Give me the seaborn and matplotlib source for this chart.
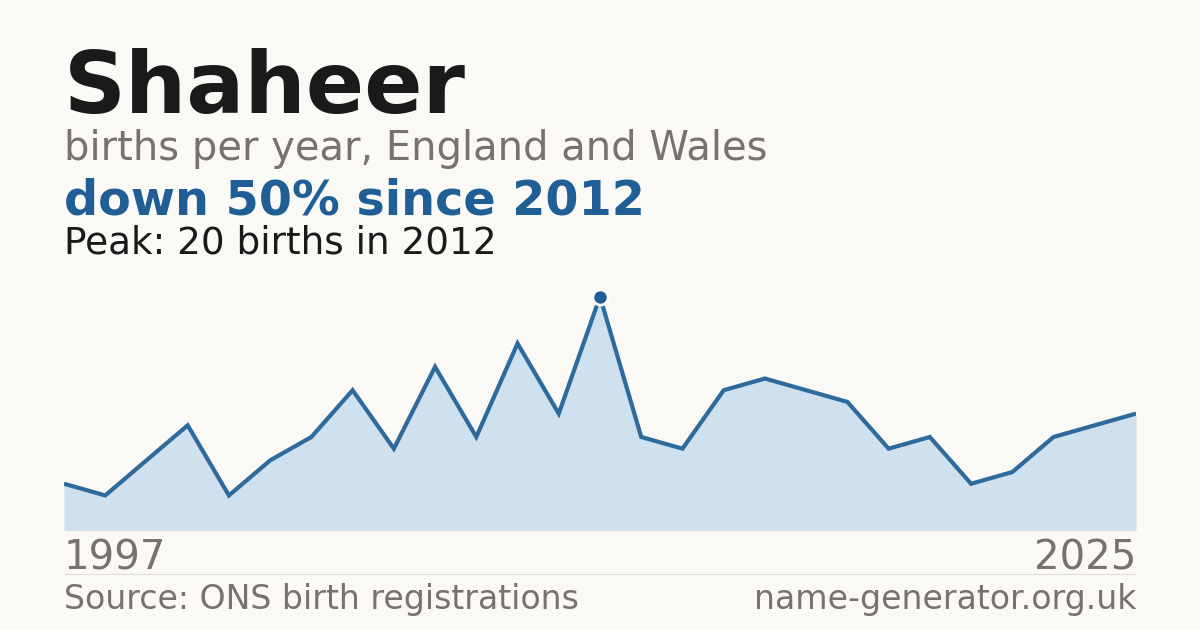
import matplotlib
matplotlib.use("Agg")
import matplotlib.pyplot as plt
import seaborn as sns
import numpy as np
import pandas as pd

# data
years = [1997, 1998, 1999, 2000, 2001, 2002, 2004, 2005, 2006, 2007, 2009, 2010, 2011,
         2012, 2013, 2014, 2015, 2016, 2017, 2018, 2019, 2020, 2021, 2022, 2023, 2024, 2025]
births = [4, 3, 6, 9, 3, 6, 8, 12, 7, 14, 8, 16, 10,
          20, 8, 7, 12, 13, 12, 11, 7, 8, 4, 5, 8, 9, 10]
name = "Shaheer"
subtitle = "births per year, England and Wales"
headline = "down 50% since 2012"
peak_note = "Peak: 20 births in 2012"
source = "Source: ONS birth registrations"
site = "name-generator.org.uk"

BG = "#faf9f5"
BLUE = "#1f5f96"
LINE = "#2e6a9c"
FILL = "#cfe0ef"
GREY = "#77726b"
DARK = "#1a1a1a"

sns.set_style("white")
plt.rcParams["font.family"] = ["DejaVu Sans"]

df = pd.DataFrame({"pos": np.arange(len(years)), "year": years, "births": births})

W, H = 1200, 630
fig = plt.figure(figsize=(12, 6.3), dpi=100, facecolor=BG)

def fx(px):
    return px / W

def fy(py):
    return 1 - py / H

ax = fig.add_axes([fx(64), fy(530.5), fx(1072), (530.5 - 280) / H])
ax.set_facecolor(BG)
ax.fill_between(df["pos"], df["births"], 0, color=FILL, linewidth=0)
sns.lineplot(data=df, x="pos", y="births", ax=ax, color=LINE, linewidth=3,
             solid_joinstyle="miter", solid_capstyle="butt")
peak_i = int(np.argmax(births))
ax.plot(df["pos"][peak_i], births[peak_i], "o", color=BLUE, markersize=11,
        markeredgecolor="white", markeredgewidth=2, zorder=5, clip_on=False)
ax.set_xlim(0, len(years) - 1)
ax.set_ylim(0, max(births) * 250.5 / 233.8)
ax.axis("off")

fig.text(fx(64), fy(113), name, fontsize=62, fontweight="bold", color=DARK, va="baseline")
fig.text(fx(64), fy(160), subtitle, fontsize=28.8, color=GREY, va="baseline")
fig.text(fx(64), fy(214.5), headline, fontsize=34.4, fontweight="bold", color=BLUE, va="baseline")
fig.text(fx(64), fy(254), peak_note, fontsize=26.9, color=DARK, va="baseline")

fig.text(fx(64), fy(570), str(years[0]), fontsize=29, color=GREY, va="baseline")
fig.text(fx(1136), fy(570), str(years[-1]), fontsize=29, color=GREY, va="baseline", ha="right")
fig.add_artist(plt.Line2D([fx(64), fx(1136)], [fy(574), fy(574)], color="#e0ddd5", linewidth=0.8))
fig.text(fx(64), fy(609), source, fontsize=23.9, color=GREY, va="baseline")
fig.text(fx(1136), fy(609), site, fontsize=23.9, color=GREY, va="baseline", ha="right")

fig.savefig("out.png", dpi=100, facecolor=BG)
